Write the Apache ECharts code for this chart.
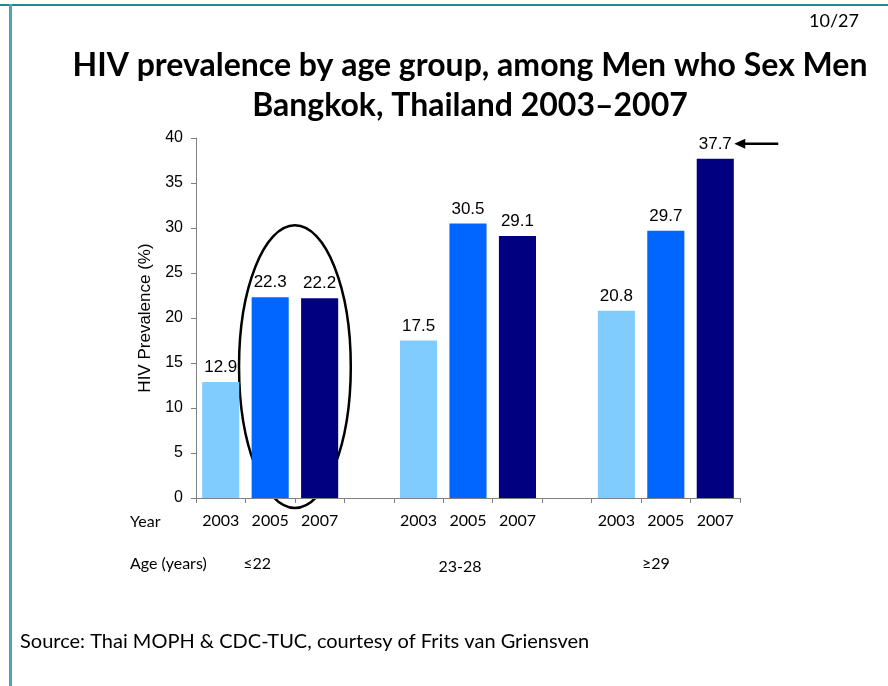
<!DOCTYPE html>
<html>
<head>
<meta charset="utf-8">
<script src="https://cdn.jsdelivr.net/npm/echarts@6/dist/echarts.min.js"></script>
<style>
  html, body { margin: 0; padding: 0; background: #fff; }
  #chart { width: 888px; height: 686px; }
</style>
</head>
<body>
<div id="chart"></div>
<script>
// categories on the x axis ('' = spacer between age groups)
const years = ['2003', '2005', '2007', '', '2003', '2005', '2007', '', '2003', '2005', '2007'];
const prevalence = [12.9, 22.3, 22.2, null, 17.5, 30.5, 29.1, null, 20.8, 29.7, 37.7];
const yearColors = { '2003': '#80CCFF', '2005': '#0066FF', '2007': '#000080' };
const ageGroups = ['≤22', '23-28', '≥29'];
const ageGroupCenter = [1, 5, 9]; // category index under which each age label sits

const slideFont = 'Lato';
const chartFont = 'Liberation Sans';

const myChart = echarts.init(document.getElementById('chart'));

const option = {
  backgroundColor: '#fff',
  animation: false,
  title: {
    text: 'HIV prevalence by age group, among Men who Sex Men\nBangkok, Thailand 2003\u20132007',
    left: 465,
    top: 41,
    textAlign: 'center',
    textStyle: {
      fontFamily: slideFont,
      fontWeight: 'bold',
      fontSize: 32,
      lineHeight: 40,
      color: '#000'
    }
  },
  grid: {
    left: 196,
    right: 148,
    top: 138,
    bottom: 188
  },
  xAxis: {
    type: 'category',
    data: years,
    axisLine: { lineStyle: { color: '#808080', width: 1 } },
    axisTick: { show: true, length: 5, lineStyle: { color: '#808080' } },
    axisLabel: {
      fontFamily: slideFont,
      fontSize: 16,
      color: '#000',
      margin: 15,
      interval: 0
    }
  },
  yAxis: {
    type: 'value',
    min: 0,
    max: 40,
    interval: 5,
    name: 'HIV Prevalence (%)',
    nameLocation: 'middle',
    nameGap: 42,
    nameTextStyle: { fontFamily: chartFont, fontSize: 17, color: '#000' },
    splitLine: { show: false },
    axisLine: { show: true, lineStyle: { color: '#808080', width: 1 } },
    axisTick: { show: true, length: 5, lineStyle: { color: '#808080' } },
    axisLabel: { fontFamily: chartFont, fontSize: 16, color: '#000', margin: 13 }
  },
  series: [{
    type: 'bar',
    barWidth: '75%',
    data: prevalence.map((v, i) => ({
      value: v,
      itemStyle: { color: yearColors[years[i]] || '#fff' }
    })),
    label: {
      show: true,
      position: 'top',
      distance: 6,
      fontFamily: chartFont,
      fontSize: 17,
      color: '#000',
      formatter: p => (p.value == null ? '' : p.value.toFixed(1))
    }
  }]
};

myChart.setOption(option);

// annotations placed from the chart's own scales
const px = (i, v) => myChart.convertToPixel({ seriesIndex: 0 }, [i, v]);
const band = px(1, 0)[0] - px(0, 0)[0];
const axisY = px(0, 0)[1];

const graphics = [];

// slide border (teal, top and left)
graphics.push({ type: 'rect', shape: { x: 0, y: 4, width: 888, height: 2 }, style: { fill: '#1F8A8A' }, silent: true });
graphics.push({ type: 'rect', shape: { x: 9, y: 4, width: 3, height: 682 }, style: { fill: '#4BA8AE' }, silent: true });

// page number
graphics.push({ type: 'text', x: 859, y: 21, style: { text: '10/27', fontFamily: slideFont, fontSize: 18, fill: '#000', align: 'right', verticalAlign: 'middle' } });

// row headings
graphics.push({ type: 'text', x: 130, y: axisY + 24, style: { text: 'Year', fontFamily: slideFont, fontSize: 16, fill: '#000', verticalAlign: 'middle' } });
graphics.push({ type: 'text', x: 130, y: axisY + 66, style: { text: 'Age (years)', fontFamily: slideFont, fontSize: 16, fill: '#000', verticalAlign: 'middle' } });

// age group labels (slightly off-centre, as on the slide)
const ageShift = [-13, -8, -10];
const ageDrop = [0, 3, 0];
ageGroups.forEach((g, k) => {
  const x = px(ageGroupCenter[k], 0)[0] + ageShift[k];
  graphics.push({
    type: 'text', x: x, y: axisY + 66 + ageDrop[k],
    style: { text: g, fontFamily: slideFont, fontSize: 16, fill: '#000', align: 'center', verticalAlign: 'middle' }
  });
});

// ellipse around 2005/2007 of the youngest group
const ellCx = (px(1, 0)[0] + px(2, 0)[0]) / 2;
const ellTop = px(1, 30.3)[1];
const ellBottom = axisY + 10;
graphics.push({
  type: 'ellipse',
  shape: { cx: ellCx, cy: (ellTop + ellBottom) / 2, rx: band * 1.13, ry: (ellBottom - ellTop) / 2 },
  style: { fill: 'none', stroke: '#000', lineWidth: 2.5 },
  silent: true
});

// arrow pointing at the 37.7 label
const last = px(10, prevalence[10]);
const ay = last[1] - 15;
const ax = last[0] + 19;
graphics.push({ type: 'line', shape: { x1: ax + 8, y1: ay, x2: ax + 44, y2: ay }, style: { stroke: '#000', lineWidth: 2.5 }, silent: true });
graphics.push({ type: 'polygon', shape: { points: [[ax, ay], [ax + 11, ay - 5], [ax + 11, ay + 5]] }, style: { fill: '#000' }, silent: true });

// source
graphics.push({ type: 'text', x: 20, y: 642, style: { text: 'Source: Thai MOPH & CDC-TUC, courtesy of Frits van Griensven', fontFamily: slideFont, fontSize: 20, fill: '#000', verticalAlign: 'middle' } });

myChart.setOption({ graphic: graphics });
</script>
</body>
</html>
